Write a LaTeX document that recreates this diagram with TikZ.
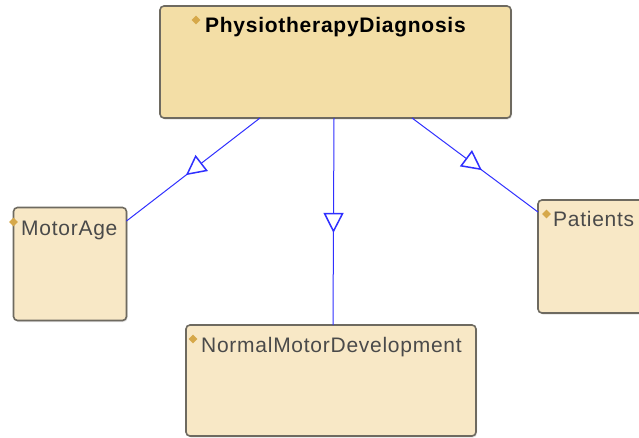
\documentclass[tikz,border=0pt]{standalone}
\usepackage{fontspec}
\setmainfont{Liberation Sans}
\usetikzlibrary{arrows.meta,decorations.markings,calc,shapes.geometric,shadows}

\definecolor{clsfill}{HTML}{F8E8C6}
\definecolor{rootfill}{HTML}{F3DEA6}
\definecolor{clsborder}{HTML}{6E6A60}
\definecolor{isaline}{HTML}{3030FF}
\definecolor{bulletc}{HTML}{D6A84A}
\definecolor{labelc}{HTML}{4A4A4A}

\tikzset{
  clsbox/.style={draw=clsborder, line width=1.6pt, rounded corners=4pt, fill=clsfill,
    inner sep=0pt, outer sep=0pt, anchor=north west,
    drop shadow={shadow xshift=1pt, shadow yshift=-1.5pt, fill=black!22}},
  clsname/.style={anchor=base west, inner sep=0pt, text=labelc,
    font=\fontsize{21}{25}\selectfont\addfontfeature{LetterSpace=3.5}},
  rootname/.style={anchor=base west, inner sep=0pt, text=black,
    font=\fontsize{21}{25}\selectfont\bfseries\addfontfeature{LetterSpace=3.5}},
  bulletmark/.style={diamond, fill=bulletc, inner sep=0pt, minimum size=9pt},
  isa/.style={draw=isaline, line width=1pt, postaction={decorate},
    decoration={markings, mark=at position 0.555 with
      {\arrow[line width=1.5pt]{Triangle[fill=white, length=20pt, width=20pt]}}}},
}

\begin{document}
\begin{tikzpicture}[x=1pt, y=1pt]
  \clip (0,0) rectangle (639,-437);
  \fill[white] (0,0) rectangle (639,-437);

  % class boxes
  \node[clsbox, fill=rootfill, minimum width=351pt, minimum height=112pt] (root) at (160,-6) {};
  \node[clsbox, minimum width=113pt, minimum height=113pt] (motorage) at (13.5,-207.5) {};
  \node[clsbox, minimum width=130pt, minimum height=113pt] (patients) at (538,-200) {};
  \node[clsbox, minimum width=290pt, minimum height=111pt] (nmd) at (186,-325) {};

  % class names
  \node[rootname] (rootlbl) at (205,-32) {PhysiotherapyDiagnosis};
  \node[clsname] (motoragelbl) at (21,-235) {MotorAge};
  \node[clsname] (patientslbl) at (553,-226) {Patients};
  \node[clsname] (nmdlbl) at (201,-352) {NormalMotorDevelopment};

  % class bullets
  \node[bulletmark] (rootdot) at (196,-20) {};
  \node[bulletmark] (motoragedot) at (13.5,-222) {};
  \node[bulletmark] (patientsdot) at (546.5,-214) {};
  \node[bulletmark] (nmddot) at (193,-339) {};

  % subclass links
  \draw[isa] ($(root.south west)+(100,0)$) -- ($(motorage.north east)+(0,-13.5)$);
  \draw[isa] ($(root.south west)+(174,0)$) -- ($(nmd.north west)+(147,0)$);
  \draw[isa] ($(root.south west)+(252,0)$) -- ($(patients.north west)+(0,-12)$);
\end{tikzpicture}
\end{document}
